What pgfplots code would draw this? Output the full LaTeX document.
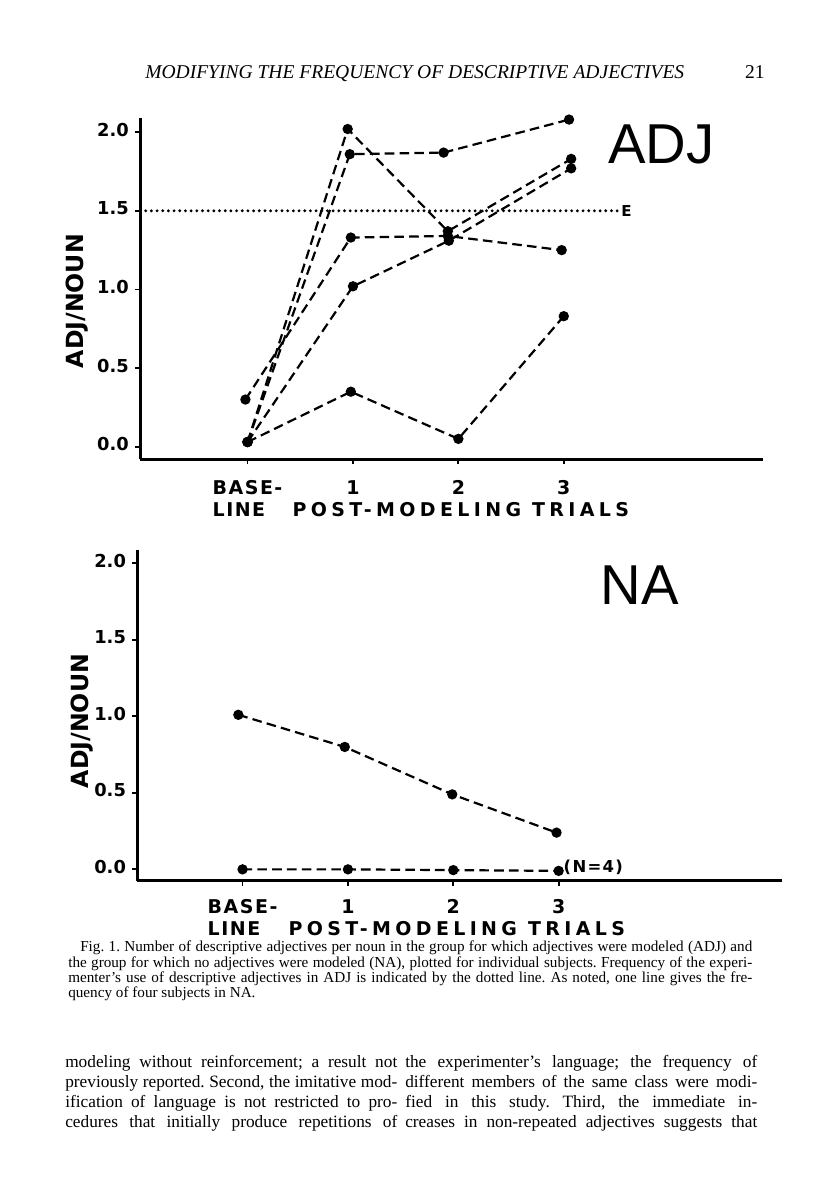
\documentclass[border=0pt]{standalone}
\usepackage{fontspec}
\setmainfont{Liberation Serif}
\newfontfamily\tickfont{DejaVu Sans}
\newfontfamily\xtickfont{DejaVu Sans}[LetterSpace=8]
\newfontfamily\xlabfont{DejaVu Sans}[LetterSpace=23]
\newfontfamily\bigsans{Liberation Sans}
\usepackage{pgfplots}
\pgfplotsset{compat=1.18}

% one subject = one dashed line with dots
\pgfplotsset{
  subj/.style={black, line width=0.55mm, dash pattern=on 2.4mm off 1.3mm,
    mark=*, mark size=1mm, mark options={solid}},
  handplot/.style={
    scale only axis, axis x line=bottom, axis y line=left,
    axis line style={-, line width=0.75mm},
    tick style={black, line width=0.45mm}, major tick length=1.3mm,
    tick align=outside, typeset ticklabels with strut,
    xtick={0,1,2,3}, xticklabels={{BASE-\\LINE},1,2,3},
    ytick={0,0.5,1,1.5,2}, yticklabels={0.0,0.5,1.0,1.5,2.0},
    xticklabel style={font=\xtickfont\bfseries\fontsize{13.5}{15.6}\selectfont,
      align=left, inner sep=0pt, anchor=north, yshift=-3.6mm},
    yticklabel style={font=\tickfont\bfseries\fontsize{12.7}{14}\selectfont,
      inner sep=0pt, anchor=east, xshift=-1.45mm},
    ylabel={ADJ/NOUN},
    ylabel style={font=\tickfont\bfseries\fontsize{16.8}{18}\selectfont,
      anchor=center, inner sep=0pt},
    xlabel={POST-MODELING TRIALS},
    xlabel style={font=\xlabfont\bfseries\fontsize{13.5}{15.6}\selectfont,
      anchor=north, inner sep=0pt, yshift=-10.75mm},
  },
}

\begin{document}
\begin{tikzpicture}
\begin{scope}[x=0.25mm,y=-0.25mm]
\path[use as bounding box, fill=white] (0,0) rectangle (816,1195);
\node[anchor=base west, inner sep=0pt, font=\itshape\fontsize{13.9}{16}\selectfont]
  at (145,79) {MODIFYING THE FREQUENCY OF DESCRIPTIVE ADJECTIVES};
\node[anchor=base east, inner sep=0pt, font=\fontsize{13.9}{16}\selectfont]
  at (765,79) {21};
\end{scope}

% ADJ group
\begin{axis}[handplot, at={(35mm,-114.75mm)}, anchor=south west,
  width=155.75mm, height=85.25mm,
  xmin=-1.02, xmax=4.89, ymin=-0.078, ymax=2.09,
  ylabel style={at={(rel axis cs:-0.101,0.463)}},
  xlabel style={at={(rel axis cs:0.515,0)}}]
\addplot[black, line width=0.8mm, line cap=round, dash pattern=on 0pt off 1.42mm]
  coordinates {(-1.02,1.5) (3.52,1.5)};
\addplot[subj] coordinates {(0,0.03) (0.95,2.02) (1.90,1.37) (3.07,1.83)};
\addplot[subj] coordinates {(0,0.03) (0.97,1.86) (1.86,1.87) (3.05,2.08)};
\addplot[subj] coordinates {(-0.02,0.30) (0.98,1.33) (1.90,1.34) (2.98,1.25)};
\addplot[subj] coordinates {(0,0.03) (1.00,1.02) (1.91,1.31) (3.07,1.77)};
\addplot[subj] coordinates {(0,0.03) (0.98,0.35) (2.00,0.05) (3.00,0.83)};
\node[anchor=west, inner sep=0pt, xshift=0.6mm,
  font=\tickfont\bfseries\fontsize{10.7}{12}\selectfont] at (axis cs:3.52,1.5) {E};
\node[anchor=base west, inner sep=0pt, font=\bigsans\fontsize{40}{40}\selectfont]
  at (rel axis cs:0.751,0.868) {ADJ};
\end{axis}

% NA group
\begin{axis}[handplot, at={(34.3mm,-220.2mm)}, anchor=south west,
  width=161.2mm, height=82.7mm,
  xmin=-1.0, xmax=5.12, ymin=-0.075, ymax=2.087,
  ylabel style={at={(rel axis cs:-0.086,0.483)}},
  xticklabel style={yshift=0.7mm},
  xlabel style={at={(rel axis cs:0.4956,0)}, yshift=0.8mm}]
\addplot[subj] coordinates {(-0.04,1.01) (0.97,0.80) (1.99,0.49) (2.98,0.24)};
\addplot[subj] coordinates {(0,0) (1,0) (2,-0.005) (3,-0.01)};
\node[anchor=west, inner sep=0pt, xshift=1.2mm,
  font=\xtickfont\bfseries\fontsize{11.7}{13}\selectfont] at (axis cs:3,0.01) {(N=4)};
\node[anchor=base west, inner sep=0pt, font=\bigsans\fontsize{40}{40}\selectfont]
  at (rel axis cs:0.718,0.834) {NA};
\end{axis}

\begin{scope}[x=0.25mm,y=-0.25mm]
\node[anchor=north west, inner sep=0pt, text width=171mm, align=justify,
  font=\frenchspacing\fontsize{10.8}{10.9}\selectfont] at (68,941)
  {\hspace*{3mm}Fig. 1. Number of descriptive adjectives per noun in the group for which adjectives were modeled (ADJ) and\linebreak
  the group for which no adjectives were modeled (NA), plotted for individual subjects. Frequency of the experi-\linebreak
  menter's use of descriptive adjectives in ADJ is indicated by the dotted line. As noted, one line gives the fre-\linebreak
  quency of four subjects in NA.};
\node[anchor=north west, inner sep=0pt, text width=83mm, align=justify,
  font=\frenchspacing\fontsize{12.3}{14.2}\selectfont] at (65,1055)
  {\parfillskip=0pt modeling without reinforcement; a result not\linebreak
  previously reported. Second, the imitative mod-\linebreak
  ification of language is not restricted to pro-\linebreak
  cedures that initially produce repetitions of\par};
\node[anchor=north west, inner sep=0pt, text width=88mm, align=justify,
  font=\frenchspacing\fontsize{12.3}{14.2}\selectfont] at (405,1055)
  {\parfillskip=0pt the experimenter's language; the frequency of\linebreak
  different members of the same class were modi-\linebreak
  fied in this study. Third, the immediate in-\linebreak
  creases in non-repeated adjectives suggests that\par};
\end{scope}
\end{tikzpicture}
\end{document}
